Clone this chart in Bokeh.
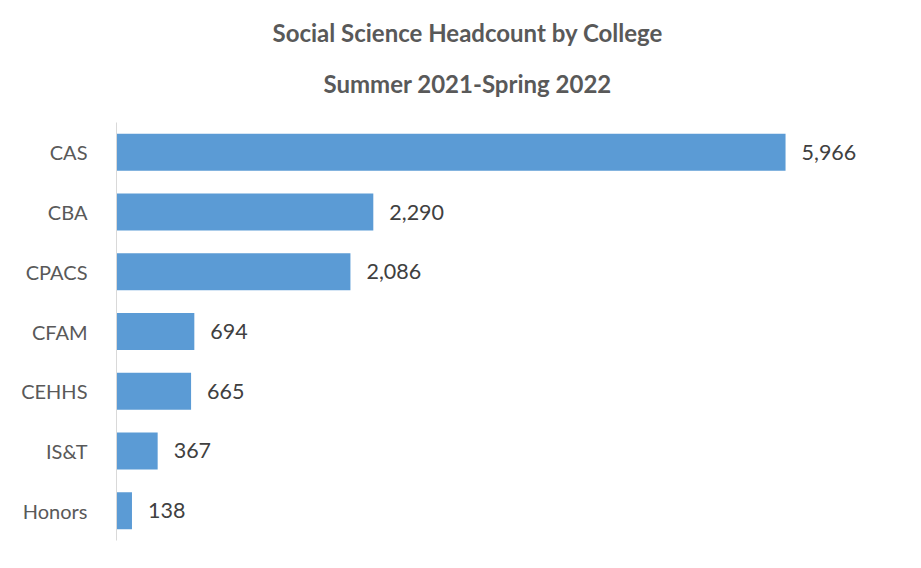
from bokeh.plotting import figure
from bokeh.models import ColumnDataSource, LabelSet, FactorRange, Range1d, Title
from bokeh.core.properties import value
from bokeh.embed import file_html
from bokeh.resources import INLINE

colleges = ["CAS", "CBA", "CPACS", "CFAM", "CEHHS", "IS&T", "Honors"]
headcount = [5966, 2290, 2086, 694, 665, 367, 138]
labels = [f"{v:,}" for v in headcount]
title_lines = ["Social Science Headcount by College", "Summer 2021-Spring 2022"]

src = ColumnDataSource(dict(college=colleges, count=headcount, label=labels))

FONT = "Lato"

p = figure(width=905, height=552, output_backend="svg", toolbar_location=None,
           y_range=FactorRange(*reversed(colleges)), x_range=Range1d(0, 7000),
           min_border_left=116, min_border_right=4, min_border_top=122, min_border_bottom=12)

# second line first (closest to frame), then first line above it
t2 = Title(text=title_lines[1], align="left", offset=207, standoff=50,
           text_font=FONT, text_font_size="24px", text_font_style="bold", text_color="#595959")
t1 = Title(text=title_lines[0], align="left", offset=156, standoff=-11,
           text_font=FONT, text_font_size="24px", text_font_style="bold", text_color="#595959")
p.add_layout(t2, "above")
p.add_layout(t1, "above")

p.hbar(y="college", right="count", height=0.62, source=src,
       fill_color="#5B9BD5", line_color=None)

p.add_layout(LabelSet(x="count", y="college", text="label", source=src,
                      x_offset=16, text_baseline="middle", text_align="left",
                      text_font=value(FONT), text_font_size=value("21.5px"),
                      text_color="#404040"))

p.xaxis.visible = False
p.xgrid.visible = False
p.ygrid.visible = False
p.yaxis.major_tick_line_color = None
p.yaxis.minor_tick_line_color = None
p.yaxis.axis_line_color = "#d9d9d9"
p.yaxis.axis_line_width = 1
p.yaxis.major_label_text_font = FONT
p.yaxis.major_label_text_font_size = "20px"
p.yaxis.major_label_text_color = "#595959"
p.yaxis.major_label_standoff = 23
p.outline_line_color = None
p.y_range.range_padding = 0

open("out.html", "w").write(file_html(p, INLINE))
